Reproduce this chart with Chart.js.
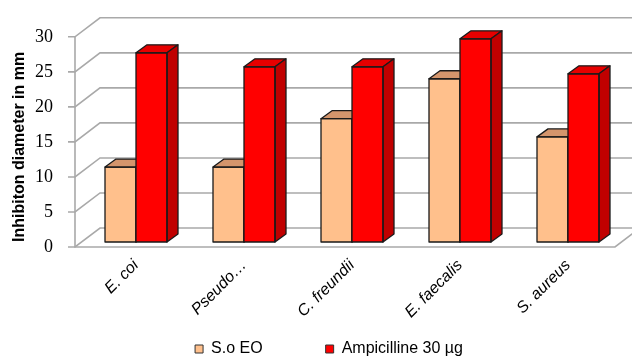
<!DOCTYPE html>
<html>
<head>
<meta charset="utf-8">
<script src="https://cdn.jsdelivr.net/npm/chart.js@4.4.1/dist/chart.umd.min.js"></script>
<style>
  html, body { margin: 0; padding: 0; background: #fff; }
  #wrap { width: 632px; height: 356px; }
</style>
</head>
<body>
<div id="wrap"><canvas id="chart" width="632" height="356"></canvas></div>
<script>
// data
const categories = ['E. coi', 'Pseudo\u2026', 'C. freundii', 'E. faecalis', 'S. aureus'];
const soEO = [10.7, 10.7, 17.6, 23.3, 15];
const ampicilline = [27, 25, 25, 29, 24];
const seriesNames = ['S.o EO', 'Ampicilline 30 \u00b5g'];
const yTicks = { min: 0, max: 30, step: 5 };

// 3D look: bar depth and wall offsets (pixels, relative to the bar plane)
const barDepth = { x: 11, y: 8 };
const wall = { frontX: -7, frontY: 5, backX: 18, backY: -14 };
const gridColor = '#a9a9a9';
const outline = '#1a1a1a';

function drawFaces(ctx, bar, ds) {
    const l = bar.x - bar.width / 2;
    const r = bar.x + bar.width / 2;
    const t = bar.y;
    const b = bar.base;
    // top face
    ctx.beginPath();
    ctx.moveTo(l, t);
    ctx.lineTo(l + barDepth.x, t - barDepth.y);
    ctx.lineTo(r + barDepth.x, t - barDepth.y);
    ctx.lineTo(r, t);
    ctx.closePath();
    ctx.fillStyle = ds.topColor;
    ctx.fill();
    ctx.stroke();
    // side face
    ctx.beginPath();
    ctx.moveTo(r, t);
    ctx.lineTo(r + barDepth.x, t - barDepth.y);
    ctx.lineTo(r + barDepth.x, b - barDepth.y);
    ctx.lineTo(r, b);
    ctx.closePath();
    ctx.fillStyle = ds.sideColor;
    ctx.fill();
    ctx.stroke();
    ctx.strokeRect(l, t, r - l, b - t);
}

const threeD = {
    id: 'threeD',
    afterLayout(chart) {
        // nudge the legend to where the original sits
        const lg = chart.legend;
        lg.left += 18; lg.right += 18;
        lg.top -= 44; lg.bottom -= 44;
    },
    beforeDatasetsDraw(chart) {
        const ctx = chart.ctx;
        const y = chart.scales.y;
        const area = chart.chartArea;
        const fx = area.left + wall.frontX;
        const bx = area.left + wall.backX;
        const fRight = area.right + wall.frontX;
        ctx.save();
        ctx.strokeStyle = gridColor;
        ctx.lineWidth = 1.6;
        for (let v = yTicks.min; v <= yTicks.max; v += yTicks.step) {
            const py = y.getPixelForValue(v);
            ctx.beginPath();
            ctx.moveTo(fx - 7, py + wall.frontY);
            ctx.lineTo(fx, py + wall.frontY);
            ctx.lineTo(bx, py + wall.backY);
            ctx.lineTo(chart.width, py + wall.backY);
            ctx.stroke();
        }
        const top = y.getPixelForValue(yTicks.max);
        const zero = y.getPixelForValue(0);
        ctx.beginPath();
        ctx.moveTo(fx, top + wall.frontY);
        ctx.lineTo(fx, zero + wall.frontY);
        ctx.lineTo(fRight, zero + wall.frontY);
        ctx.lineTo(fRight + (wall.backX - wall.frontX), zero + wall.backY);
        ctx.stroke();
        ctx.restore();
    },
    afterDatasetsDraw(chart) {
        // repaint bars in dataset order so the red bar sits in front of the orange side
        const ctx = chart.ctx;
        ctx.save();
        ctx.lineJoin = 'round';
        chart.data.datasets.forEach((ds, i) => {
            chart.getDatasetMeta(i).data.forEach(bar => {
                bar.draw(ctx);
                ctx.lineWidth = 1.3;
                ctx.strokeStyle = outline;
                drawFaces(ctx, bar, ds);
            });
        });
        ctx.restore();
    }
};

new Chart(document.getElementById('chart'), {
    type: 'bar',
    data: {
        labels: categories,
        datasets: [
            {
                label: seriesNames[0],
                data: soEO,
                backgroundColor: '#FFC08C',
                borderWidth: 0,
                topColor: '#D4956C',
                sideColor: '#C98A5E'
            },
            {
                label: seriesNames[1],
                data: ampicilline,
                backgroundColor: '#FF0000',
                borderWidth: 0,
                topColor: '#E60000',
                sideColor: '#C00000'
            }
        ]
    },
    options: {
        responsive: false,
        animation: false,
        events: [],
        layout: { padding: { top: 14, right: 10, left: 0, bottom: -55 } },
        datasets: { bar: { barPercentage: 1, categoryPercentage: 0.574 } },
        plugins: {
            tooltip: { enabled: false },
            legend: {
                position: 'bottom',
                labels: {
                    boxWidth: 8,
                    boxHeight: 8,
                    padding: 63,
                    color: '#000',
                    font: { family: 'Liberation Sans, Arial, sans-serif', size: 16 },
                    generateLabels: chart => chart.data.datasets.map((ds, i) => ({
                        text: ds.label,
                        fillStyle: ds.backgroundColor,
                        strokeStyle: '#333',
                        lineWidth: 1,
                        datasetIndex: i,
                        hidden: false
                    }))
                }
            }
        },
        scales: {
            x: {
                grid: { display: false },
                border: { display: false },
                ticks: {
                    minRotation: 45,
                    maxRotation: 45,
                    padding: 6,
                    color: '#000',
                    font: { family: 'Liberation Sans, Arial, sans-serif', size: 16, style: 'italic' }
                },
                afterFit: s => { s.height = 80; }
            },
            y: {
                min: yTicks.min,
                max: yTicks.max,
                grid: { display: false },
                border: { display: false },
                ticks: {
                    stepSize: yTicks.step,
                    padding: 21,
                    labelOffset: wall.frontY,
                    color: '#000',
                    font: { family: 'Liberation Serif, Times New Roman, serif', size: 18 }
                },
                title: {
                    display: true,
                    text: 'Inhibiton diameter in mm',
                    align: 'start',
                    color: '#000',
                    padding: { top: 10, bottom: 0 },
                    font: { family: 'Liberation Sans, Arial, sans-serif', size: 16, weight: 'bold' }
                },
                afterFit: s => { s.width = 82; }
            }
        }
    },
    plugins: [threeD]
});
</script>
</body>
</html>
